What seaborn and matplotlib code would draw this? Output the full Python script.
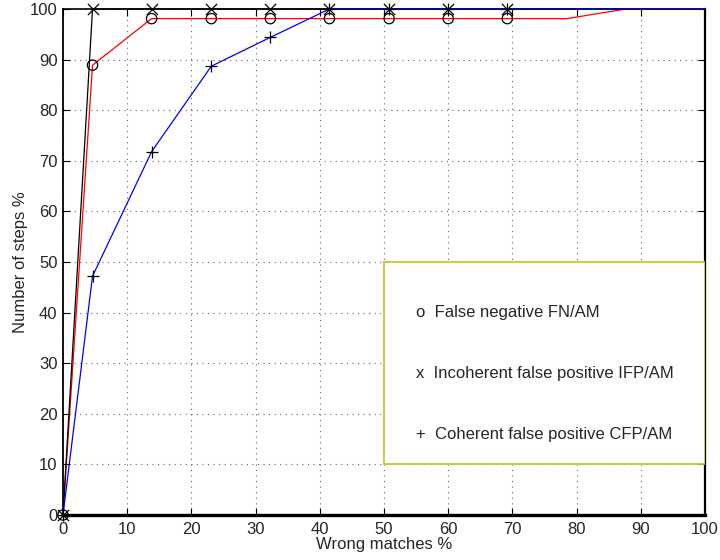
import matplotlib
matplotlib.use("Agg")
import matplotlib.pyplot as plt
from matplotlib.patches import Rectangle
import numpy as np
import pandas as pd
import seaborn as sns

# Wrong matches (%) at each step
wrong_matches = [0, 4.6, 13.8, 23.1, 32.3, 41.5, 50.8, 60.0, 69.2, 78.5, 87.7, 100]
# Number of steps (%) for each error type
false_negative = [0, 88.9, 98.1, 98.1, 98.1, 98.1, 98.1, 98.1, 98.1, 98.1, 100, 100]
incoherent_fp = [0, 100, 100, 100, 100, 100, 100, 100, 100, 100, 100, 100]
coherent_fp = [0, 47.2, 71.8, 88.7, 94.4, 100, 100, 100, 100, 100, 100, 100]
n_marked = 9  # markers drawn on the first points only

legend_lines = ["o  False negative FN/AM",
                "x  Incoherent false positive IFP/AM",
                "+  Coherent false positive CFP/AM"]
x_ticks = list(range(0, 101, 10))
y_ticks = list(range(0, 101, 10))

sns.set_style("white")
plt.rcParams["font.family"] = ["Liberation Sans", "DejaVu Sans"]

fig = plt.figure(figsize=(7.2, 5.6), dpi=100)
ax = fig.add_axes([63 / 720, 1 - 515 / 560, (705 - 63) / 720, (515 - 9) / 560])

series = [
    (false_negative, "red", "o"),
    (incoherent_fp, "black", "x"),
    (coherent_fp, "blue", "+"),
]
for values, color, marker in series:
    df = pd.DataFrame({"x": wrong_matches, "y": values})
    sns.lineplot(data=df, x="x", y="y", color=color, linewidth=0.9,
                 sort=False, estimator=None, ax=ax, zorder=3)
    ax.lines[-1].set_clip_on(False)
    sub = df.iloc[:n_marked]
    if marker == "o":
        sns.scatterplot(data=sub, x="x", y="y", marker="o", s=55,
                        facecolor="none", edgecolor="black", linewidth=0.9,
                        ax=ax, zorder=4)
    else:
        sns.scatterplot(data=sub, x="x", y="y", marker=marker, s=65,
                        color="black", linewidth=0.9, ax=ax, zorder=4)
    ax.collections[-1].set_clip_on(False)

ax.set_xlim(0, 100)
ax.set_ylim(0, 100)
ax.set_xticks(x_ticks)
ax.set_yticks(y_ticks)
ax.grid(True, color="#666666", linestyle=(0, (1, 4)), linewidth=0.8)
ax.set_axisbelow(True)

ax.tick_params(axis="both", which="both", direction="in", length=5,
               width=0.8, color="black", top=True, right=True,
               bottom=True, left=True, labelsize=12, pad=4)
ax.tick_params(axis="x", pad=5)

for side, lw in [("bottom", 2.4), ("left", 1.3), ("top", 1.2), ("right", 1.6)]:
    ax.spines[side].set_visible(True)
    ax.spines[side].set_color("black")
    ax.spines[side].set_linewidth(lw)

ax.set_xlabel("Wrong matches %", fontsize=12, labelpad=0)
ax.set_ylabel("Number of steps %", fontsize=12, labelpad=1)

# Annotation box with the series key
ax.add_patch(Rectangle((50, 10), 50, 40, facecolor="white",
                       edgecolor="#c8c832", linewidth=1.3, zorder=5))
for text, yv in zip(legend_lines, [40, 28, 16]):
    ax.text(55, yv, text, fontsize=12, va="center", ha="left", zorder=6)

fig.savefig("out.png", dpi=100)
